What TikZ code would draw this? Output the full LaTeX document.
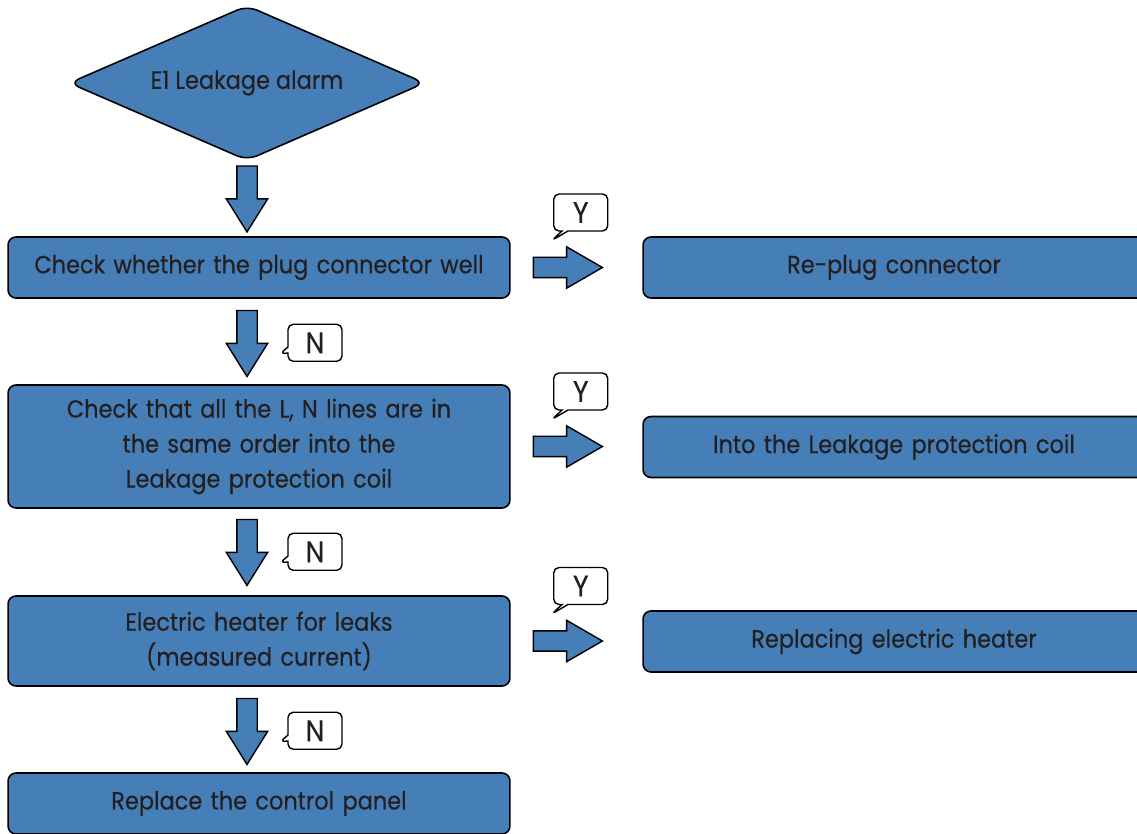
\documentclass[tikz,border=0pt]{standalone}
\usepackage{fontspec}
\setmainfont{Poppins}[FakeStretch=0.9, FakeBold=0.4]
\usetikzlibrary{positioning,calc,shapes.geometric,shapes.arrows,shapes.callouts}

\definecolor{boxblue}{RGB}{70,126,184}
\definecolor{inkgray}{RGB}{35,31,32}

\tikzset{
  flowbox/.style={draw=black, line width=0.9pt, fill=boxblue, rounded corners=4.5pt,
    minimum width=10.04cm, text width=9.8cm, align=center, text=inkgray,
    font=\fontsize{14.2}{19.9}\selectfont, inner sep=0pt},
  alarmbox/.style={draw=black, line width=0.9pt, fill=boxblue, diamond, aspect=2.3,
    rounded corners=6pt, minimum width=7.12cm, minimum height=3.1cm, inner sep=0pt,
    text=inkgray, font=\fontsize{14.2}{19.9}\selectfont},
  downarr/.style={draw=black, line width=0.8pt, fill=boxblue, single arrow,
    shape border rotate=270, minimum height=1.32cm, minimum width=0.8cm,
    single arrow head extend=0.21cm, single arrow tip angle=64, inner sep=0.19cm,
    anchor=tail},
  rightarr/.style={downarr, shape border rotate=0, minimum height=1.38cm,
    single arrow tip angle=60},
  answer/.style={draw=black, line width=0.8pt, fill=white, rectangle callout,
    rounded corners=3pt, minimum width=1.08cm, minimum height=0.74cm, inner sep=0pt,
    text=inkgray, font=\fontsize{17}{17}\selectfont, callout pointer width=0.12cm}
}

\begin{document}
\begin{tikzpicture}[x=0.02cm, y=-0.02cm]
\useasboundingbox (0,0) rectangle (1137,834);

% left column
\node[alarmbox] (alarm) at (247,83) {E1 Leakage alarm};
\node[flowbox, minimum height=1.22cm] (plug) at (259,267.5) {Check whether the plug connector well};
\node[flowbox, minimum height=2.46cm] (order) at (259,446.5) {Check that all the L, N lines are in\\the same order into the\\Leakage protection coil};
\node[flowbox, minimum height=1.8cm] (heater) at (259,641) {Electric heater for leaks\\(measured current)};
\node[flowbox, minimum height=1.22cm] (panel) at (259,803.5) {Replace the control panel};

% right column
\node[flowbox, minimum height=1.22cm] (replug) at (894,267.5) {Re-plug connector};
\node[flowbox, minimum height=1.22cm] (coil) at (894,447) {Into the Leakage protection coil};
\node[flowbox, minimum height=1.22cm] (newheater) at (894,641.5) {Replacing electric heater};

% down arrows
\node[downarr] (d1) at ($(alarm.south)+(0,4)$) {};
\node[downarr] (d2) at ($(plug.south -| alarm.south)+(0,11)$) {};
\node[downarr] (d3) at ($(order.south -| alarm.south)+(0,10)$) {};
\node[downarr] (d4) at ($(heater.south -| alarm.south)+(0,11)$) {};

% right arrows
\node[rightarr] (r1) at ($(plug.east)+(22,0)$) {};
\node[rightarr] (r2) at ($(order.east)+(22,0)$) {};
\node[rightarr] (r3) at ($(heater.east)+(22,0)$) {};

% Y / N labels
\node[answer, callout absolute pointer={($(r1.tail)+(19,-27)$)}] (y1) at ($(r1.tail)+(48,-55)$) {Y};
\node[answer, callout absolute pointer={($(r2.tail)+(19,-27)$)}] (y2) at ($(r2.tail)+(48,-55)$) {Y};
\node[answer, callout absolute pointer={($(r3.tail)+(19,-27)$)}] (y3) at ($(r3.tail)+(48,-55)$) {Y};
\node[answer, callout absolute pointer={($(d2.tail)+(33,44)$)}] (n1) at ($(d2.tail)+(68,33)$) {N};
\node[answer, callout absolute pointer={($(d3.tail)+(33,44)$)}] (n2) at ($(d3.tail)+(68,33)$) {N};
\node[answer, callout absolute pointer={($(d4.tail)+(33,44)$)}] (n3) at ($(d4.tail)+(68,33)$) {N};
\end{tikzpicture}
\end{document}
